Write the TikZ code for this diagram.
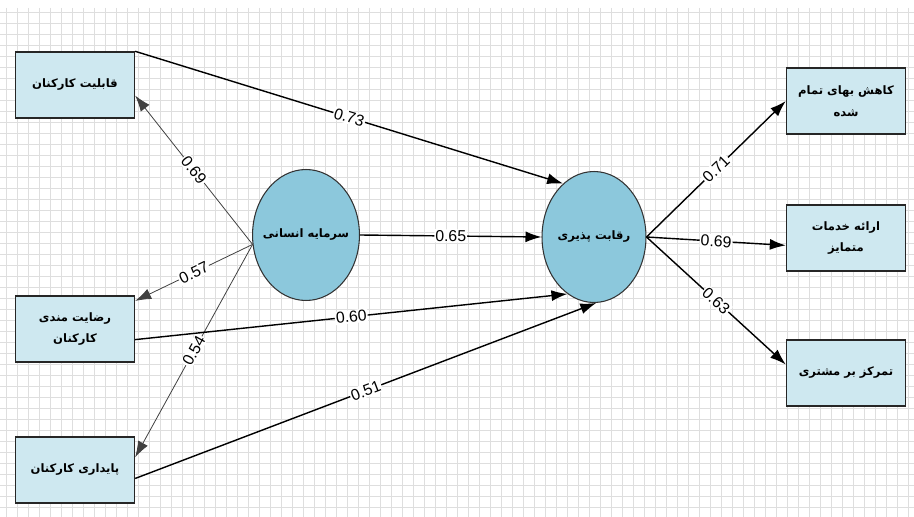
\documentclass[tikz,border=0pt]{standalone}
\usepackage{fontspec}
\usepackage{tikz}
\usetikzlibrary{shapes.geometric,arrows.meta}
\setmainfont{Liberation Sans}
\newfontfamily\farsi[Script=Arabic]{DejaVu Sans}
\TeXXeTstate=1
\definecolor{boxblue}{RGB}{206, 232, 240}
\definecolor{ovalblue}{RGB}{140, 200, 220}
\definecolor{gridgray}{RGB}{222, 222, 222}

\begin{document}
\begin{tikzpicture}[x=0.02cm,y=-0.02cm,
    box/.style={draw=black!85,line width=0.8pt,fill=boxblue,minimum width=2.38cm,minimum height=1.32cm,align=center,font=\farsi\bfseries\fontsize{6.6}{12.5}\selectfont},
    latent/.style={ellipse,draw=black!80,line width=0.6pt,fill=ovalblue,inner xsep=-3pt,inner ysep=0pt,minimum width=2.08cm,minimum height=2.62cm,font=\farsi\bfseries\fontsize{6.6}{10}\selectfont},
    link/.style={line width=0.8pt,-{Latex[length=3.2mm,width=2.2mm]}},
    weak link/.style={line width=0.45pt,black!75,-{Latex[length=3.2mm,width=2.2mm]}},
    coef/.style={sloped,fill=white,inner sep=0.6pt,text=black,font=\fontsize{9}{10}\selectfont},
    gridline/.style={gridgray,line width=0.4pt}]
    \useasboundingbox (0,0) rectangle (914,517);
    \fill[white] (0,0) rectangle (914,517);
    % background grid
    \foreach \gx in {6,17,...,914} \draw[gridline] (\gx,8) -- (\gx,517);
    \foreach \gy in {12,23,...,517} \draw[gridline] (0,\gy) -- (914,\gy);

    % indicators of human capital
    \node[box] (qk) at (75,85) {\beginR قابلیت کارکنان\endR};
    \node[box] (rk) at (75,329) {\beginR رضایت مندی\endR\\ \beginR کارکنان\endR};
    \node[box] (pk) at (75,470) {\beginR پایداری کارکنان\endR};

    % latent variables
    \node[latent] (hc) at (306,235) {\beginR سرمایه انسانی\endR};
    \node[latent] (rq) at (594,237) {\beginR رقابت پذیری\endR};

    % indicators of competitiveness
    \node[box] (kb) at (846,101) {\beginR کاهش بهای تمام\endR\\ \beginR شده\endR};
    \node[box] (ak) at (846,238) {\beginR ارائه خدمات\endR\\ \beginR متمایز\endR};
    \node[box] (tm) at (846,373) {\beginR تمرکز بر مشتری\endR};

    % loadings
    \draw[weak link] (hc.190) -- node[coef] {0.69} (qk.-10);
    \draw[weak link] (hc.190) -- node[coef] {0.57} (rk.25);
    \draw[weak link] (hc.190) -- node[coef] {0.54} (pk.12);

    % paths
    \draw[link] (qk.north east) -- node[coef] {0.73} (rq.120);
    \draw[link] (hc.east) -- node[coef] {0.65} (rq.west);
    \draw[link] (rk.-10) -- node[coef] {0.60} (rq.245);
    \draw[link] (pk.-8) -- node[coef] {0.51} (rq.272);

    \draw[link] (rq.east) -- node[coef] {0.71} (kb.west);
    \draw[link] (rq.east) -- node[coef] {0.69} (ak.187);
    \draw[link] (rq.east) -- node[coef] {0.63} (tm.172);
\end{tikzpicture}
\end{document}
